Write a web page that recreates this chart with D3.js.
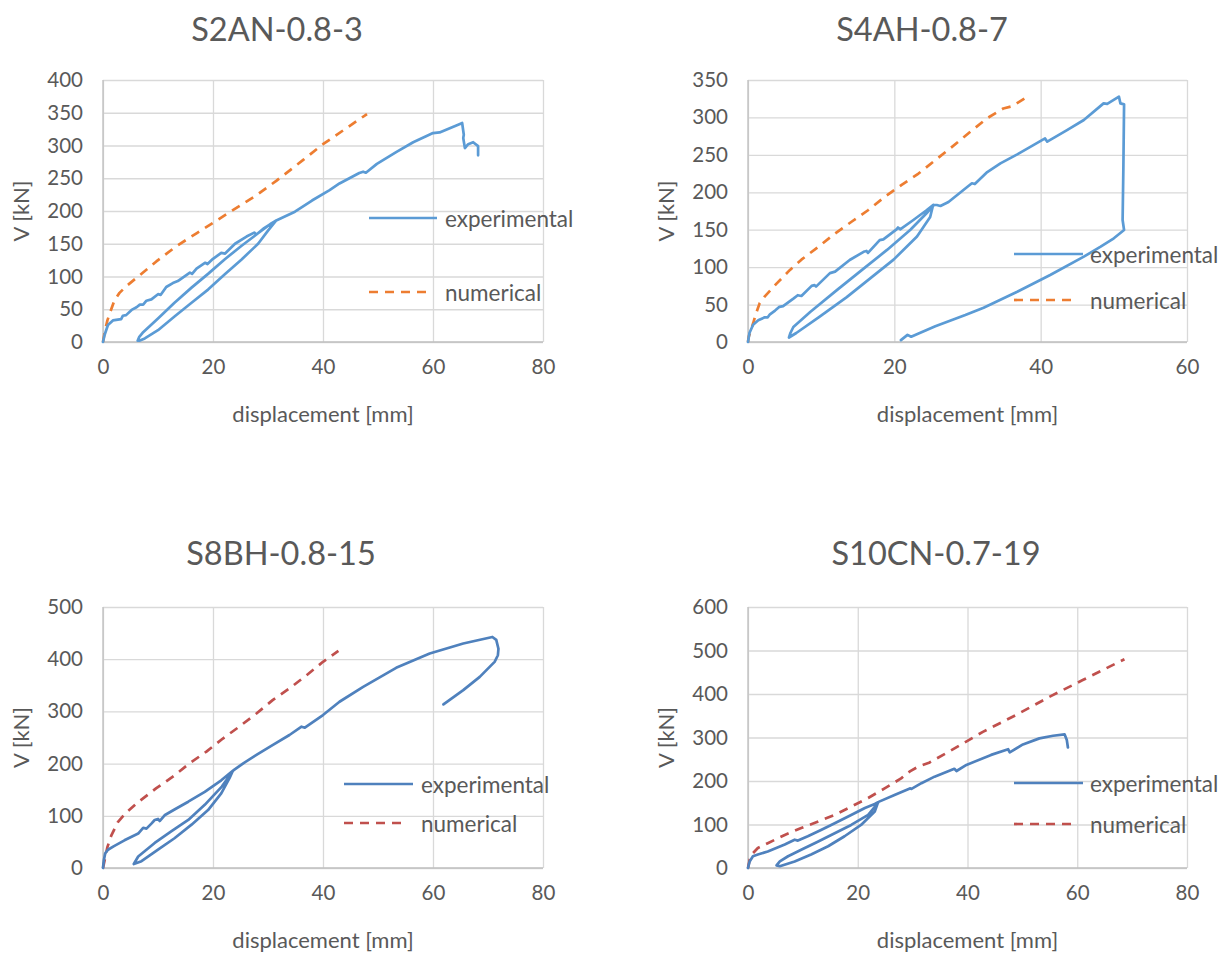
<!DOCTYPE html>
<html>
<head>
<meta charset="utf-8">
<script src="https://cdn.jsdelivr.net/npm/d3@7"></script>
<style>
  body { margin: 0; background: #ffffff; }
  svg text { font-family: Lato, "Open Sans", sans-serif; fill: #595959; }
</style>
</head>
<body>
<svg id="chart" width="1230" height="953"></svg>
<script>
// ---- Specimen titles and legend entries ----
const titles = ["S2AN-0.8-3", "S4AH-0.8-7", "S8BH-0.8-15", "S10CN-0.7-19"];
const seriesNames = ["experimental", "numerical"];

// ---- Tick values ----
const xTicks80 = [0, 20, 40, 60, 80];
const xTicks60 = [0, 20, 40, 60];
const yTicks400 = [0, 50, 100, 150, 200, 250, 300, 350, 400];
const yTicks350 = [0, 50, 100, 150, 200, 250, 300, 350];
const yTicks500 = [0, 100, 200, 300, 400, 500];
const yTicks600 = [0, 100, 200, 300, 400, 500, 600];

// ---- S2AN-0.8-3: [displacement mm, V kN] ----
const s2anExperimental = [
  [0,0],[0.3,11],[0.9,26],[1.8,33],[3.3,35],[3.6,40],[4.2,41],[5.2,49],[6.1,53],[6.7,57],[7.3,57],
  [7.9,63],[8.8,65],[10,73],[10.5,72],[11.5,84],[12.7,90],[13.6,93],[15.8,106],[16.2,104],[17,112],
  [18.6,121],[19,119],[20,127],[21.5,136],[22.2,135],[24,150],[26.1,161],[27.5,167],[27.9,164],
  [29.3,174],[31.5,185.5],
  [30,170],[28.2,150],[25.2,126],[22.1,103],[19.1,80],[16.1,60],[13,39],[10,18],[7.6,5.5],[6.6,2],[6.3,2],
  [6.6,8],[7.2,14],[10,36],[13,60],[16.1,83],[19.1,104],[22.1,126],[25.2,147],[28.2,166],[30.6,181],[31.6,186],
  [34.9,199],[38,216],[41.2,232],[43,242],[46.6,258],[47.3,260],[47.8,258.5],[49.8,272],[53.3,290],
  [56.4,305],[60,319],[61.2,320],[64.9,333],[65.3,334.4],[65.6,316.5],[65.5,311.5],[65.8,296],
  [66.4,302],[67.3,305],[68.2,299],[68.2,285]
];
const s2anNumerical = [
  [0,0],[0.3,15],[0.8,33],[1.5,50],[2.1,64],[3,75],[4.2,85],[6.7,102],[9.7,123],[13.3,146],[17,166],
  [20,182],[23,198],[27.9,224],[31.5,246],[36.4,278],[40,302],[44,325],[48,348]
];

// ---- S4AH-0.8-7 ----
const s4ahExperimental = [
  [0,0],[0.2,12],[0.7,23],[1.4,29],[2.3,33],[2.7,33],[3,37],[3.7,42],[4.3,47],[4.8,48],[6.2,58],
  [6.8,62.5],[7.3,61.5],[8.7,75],[9.1,76],[9.3,74],[11.2,92],[11.9,94],[13.9,109.5],[15.8,120.5],
  [16.2,121.6],[16.4,119],[18,136],[18.5,137],[20.3,150.5],[20.5,153],[20.8,150.5],[22.6,163],
  [24.4,176],[25.3,183],
  [24.9,167],[23.1,141],[19.9,110],[16.7,85],[13.5,60],[9.8,34],[6.6,12],[5.6,6],
  [5.8,12],[6.2,20],[8.5,40],[12.1,69],[15.8,98],[19,123],[22.2,150],[24.4,172],[25.4,183],
  [25.8,183],[26.3,181.7],[27.4,187],[29.7,205],[30.6,212],[31,211],[32.7,227],[34.5,238.7],
  [36.8,250.7],[39,263],[40.6,272],[40.9,267.6],[43.6,283],[45.9,296.6],[48.6,318.8],[49.1,318],
  [50.7,327.7],[50.9,318.8],[51.4,317.5],[51.3,229.8],[51.2,163],[51.4,149.6],[50,138.5],[48.2,127.3],
  [45.9,114],[41.3,89.5],[36.8,67.2],[32.2,45.8],[29.7,36],[25.6,21],[23,10],[22.3,7],[21.8,9.5],[20.9,2.5]
];
const s4ahNumerical = [
  [0,0],[0.1,7],[0.7,25],[1.1,38],[1.6,52],[2.3,61],[3.9,78],[5.7,96],[7.3,110],[9.6,127],[11.9,145],
  [14.2,161],[16.4,176],[18.7,194],[21,210],[23.3,225],[25.6,243],[27.8,260],[30.4,281],[32.7,299],
  [34.9,312],[36.1,315],[37.9,326]
];

// ---- S8BH-0.8-15 ----
const s8bhExperimental = [
  [0,0],[0.15,15],[0.4,28],[0.9,35],[2,42],[3.9,53],[6.4,66],[7.3,77],[7.9,75.5],[8.8,85],[9.4,92],
  [10,94],[10.3,90],[11.2,101],[13,112],[15.5,127],[18.5,146],[21.5,168],[23.6,186],
  [23,172],[21.5,143],[19.1,111],[16.1,83],[13,57],[10,35],[7,13],[5.6,7.6],
  [6.4,22],[9.4,48],[12.4,70],[15.5,92],[18.5,121],[21.6,156],[23.3,181],[23.7,187],
  [25.5,200.6],[27.9,216.6],[30.9,235.7],[33.9,254.8],[36.1,270.7],[36.7,268.8],[40,293],[43,318.5],
  [47.3,347],[53.3,383.4],[59.4,410.8],[65.5,430],[70.8,442.6],[71.5,437],[71.9,420],[71.8,407.6],
  [71.2,394.8],[68.5,366.2],[65.5,340.7],[61.9,313.4]
];
const s8bhNumerical = [
  [0,0],[0.3,15],[0.8,40],[1.5,62],[2.7,88],[4.2,106],[6.5,127],[9.7,153],[12.7,175],[15.8,201],
  [18.8,223],[21.8,248],[24.8,271],[27.9,296],[30.9,322],[33.9,344],[37,369],[40,395],[42.8,416]
];

// ---- S10CN-0.7-19 ----
const s10cnExperimental = [
  [0,0],[0.3,15],[0.9,27],[1.8,31],[3.6,38],[6.7,54],[8.5,65],[9.1,63],[10.9,73],[13.4,88],[15.8,103],
  [18.8,122],[21.3,138],[23.1,147],[23.7,151],
  [23.1,130],[20.6,99],[17.6,73],[14.6,50],[11.5,31],[8.5,15],[5.8,4],[5.2,6],
  [5.8,15],[7.3,27],[9.7,42],[12.8,61],[15.8,80],[18.8,99],[21.9,122],[23.4,145],[23.8,152],
  [26.7,168],[29.5,183],[29.8,182],[31.6,195],[34,210],[37.6,228],[38,223],[39.8,237],[44.3,260],
  [47.4,273],[47.7,266],[50.1,284],[53.1,298],[55.6,304],[57.7,307],[58.1,294],[58.3,277]
];
const s10cnNumerical = [
  [0,0],[0.3,19],[0.9,34],[1.8,46],[3.6,57],[6.7,76],[9.7,92],[12.8,107],[15.8,122],[18.8,141],
  [21.9,161],[24.9,183],[27.9,206],[29.5,222],[31,233],[33,242],[36.7,268],[42.8,313],[48.9,352],
  [55,394],[61,432],[68.6,480]
];

// ---- Panel layout (pixel geometry of each chart) ----
const panels = [
  { title: titles[0], exp: s2anExperimental, num: s2anNumerical, xTicks: xTicks80, yTicks: yTicks400,
    left: 103, right: 543, top: 80, bottom: 342, titleX: 277, titleY: 28,
    expColor: "#5B9BD5", numColor: "#ED7D31",
    legend: { x1: 369, x2: 437, nx2: 432, tx: 445, ey: 218, ny: 292 } },
  { title: titles[1], exp: s4ahExperimental, num: s4ahNumerical, xTicks: xTicks60, yTicks: yTicks350,
    left: 748, right: 1187, top: 80, bottom: 342, titleX: 922, titleY: 28,
    expColor: "#5B9BD5", numColor: "#ED7D31",
    legend: { x1: 1014, x2: 1083, nx2: 1078, tx: 1090, ey: 254, ny: 300 } },
  { title: titles[2], exp: s8bhExperimental, num: s8bhNumerical, xTicks: xTicks80, yTicks: yTicks500,
    left: 103, right: 543, top: 607, bottom: 868, titleX: 281, titleY: 552,
    expColor: "#4F81BD", numColor: "#C0504D",
    legend: { x1: 344, x2: 413, nx2: 408, tx: 421, ey: 784, ny: 823 } },
  { title: titles[3], exp: s10cnExperimental, num: s10cnNumerical, xTicks: xTicks80, yTicks: yTicks600,
    left: 748, right: 1187, top: 607, bottom: 868, titleX: 936, titleY: 552,
    expColor: "#4F81BD", numColor: "#C0504D",
    legend: { x1: 1014, x2: 1083, nx2: 1078, tx: 1090, ey: 783, ny: 824 } }
];

const svg = d3.select("#chart");
const LINE_W = 2.7;
const DASH = "9,7";

panels.forEach(p => {
  const g = svg.append("g");
  const x = d3.scaleLinear().domain(d3.extent(p.xTicks)).range([p.left, p.right]);
  const y = d3.scaleLinear().domain(d3.extent(p.yTicks)).range([p.bottom, p.top]);
  const w = p.right - p.left, h = p.bottom - p.top;

  // gridlines + tick labels via d3 axes
  const ya = g.append("g").attr("transform", `translate(${p.left},0)`)
    .call(d3.axisLeft(y).tickValues(p.yTicks).tickSize(-w).tickPadding(20).tickFormat(d3.format("d")));
  const xa = g.append("g").attr("transform", `translate(0,${p.bottom})`)
    .call(d3.axisBottom(x).tickValues(p.xTicks).tickSize(-h).tickPadding(17).tickFormat(d3.format("d")));
  [ya, xa].forEach(a => {
    a.select(".domain").remove();
    a.selectAll(".tick line").attr("stroke", "#D9D9D9").attr("stroke-width", 1.3);
    a.selectAll(".tick text").attr("font-size", 20.5).attr("fill", "#595959");
  });

  // plot axes
  g.append("line").attr("x1", p.left).attr("x2", p.left).attr("y1", p.top).attr("y2", p.bottom)
    .attr("stroke", "#BFBFBF").attr("stroke-width", 1.3);
  g.append("line").attr("x1", p.left).attr("x2", p.right).attr("y1", p.bottom).attr("y2", p.bottom)
    .attr("stroke", "#BFBFBF").attr("stroke-width", 1.3);

  const line = d3.line().x(d => x(d[0])).y(d => y(d[1]));

  g.append("path").datum(p.num).attr("d", line)
    .attr("fill", "none").attr("stroke", p.numColor).attr("stroke-width", LINE_W)
    .attr("stroke-dasharray", DASH).attr("stroke-linejoin", "round");
  g.append("path").datum(p.exp).attr("d", line)
    .attr("fill", "none").attr("stroke", p.expColor).attr("stroke-width", LINE_W)
    .attr("stroke-linejoin", "round").attr("stroke-linecap", "round");

  // title
  g.append("text").attr("x", p.titleX).attr("y", p.titleY).attr("text-anchor", "middle")
    .attr("dominant-baseline", "central").attr("font-size", 32.5).text(p.title);

  // axis titles
  g.append("text").attr("x", (p.left + p.right) / 2).attr("y", p.bottom + 71)
    .attr("text-anchor", "middle").attr("dominant-baseline", "central").attr("font-size", 22)
    .text("displacement [mm]");
  g.append("text").attr("transform", `translate(${p.left - 83},${(p.top + p.bottom) / 2}) rotate(-90)`)
    .attr("text-anchor", "middle").attr("dominant-baseline", "central").attr("font-size", 22)
    .text("V [kN]");

  // legend
  const L = p.legend;
  g.append("line").attr("x1", L.x1).attr("x2", L.x2).attr("y1", L.ey).attr("y2", L.ey)
    .attr("stroke", p.expColor).attr("stroke-width", LINE_W);
  g.append("text").attr("x", L.tx).attr("y", L.ey).attr("dominant-baseline", "central")
    .attr("font-size", 22.5).text(seriesNames[0]);
  g.append("line").attr("x1", L.x1).attr("x2", L.nx2).attr("y1", L.ny).attr("y2", L.ny)
    .attr("stroke", p.numColor).attr("stroke-width", LINE_W).attr("stroke-dasharray", DASH);
  g.append("text").attr("x", L.tx).attr("y", L.ny).attr("dominant-baseline", "central")
    .attr("font-size", 22.5).text(seriesNames[1]);
});
</script>
</body>
</html>
